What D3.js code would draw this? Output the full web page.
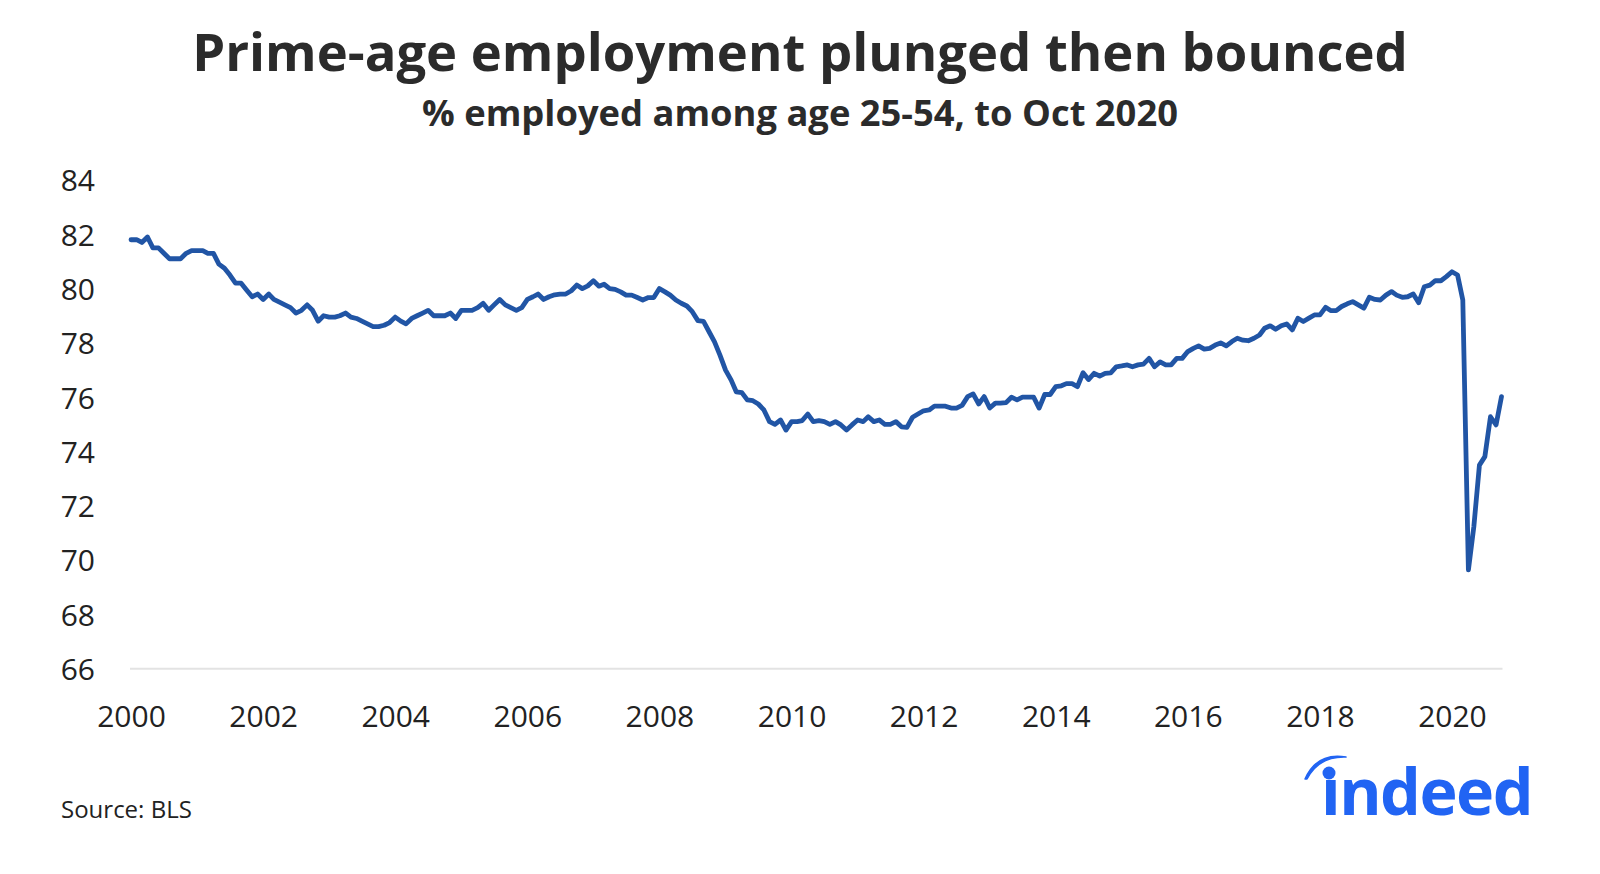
<!DOCTYPE html>
<html>
<head>
<meta charset="utf-8">
<script src="https://cdn.jsdelivr.net/npm/d3@7"></script>
<style>
  html, body { margin: 0; padding: 0; background: #fff; }
  svg { display: block; }
  text { font-family: "Open Sans", "Noto Sans", sans-serif; }
</style>
</head>
<body>
<svg id="chart" width="1600" height="874"></svg>
<script>
// ---- Data ----
const title = "Prime-age employment plunged then bounced";
const subtitle = "% employed among age 25-54, to Oct 2020";
const source = "Source: BLS";
const startMonth = "2000-01";
// Monthly employment-population ratio, age 25-54 (%), Jan 2000 - Oct 2020
const y2000 = [81.8, 81.8, 81.7, 81.9, 81.5, 81.5, 81.3, 81.1, 81.1, 81.1, 81.3, 81.4];
const y2001 = [81.4, 81.4, 81.3, 81.3, 80.9, 80.75, 80.5, 80.2, 80.2, 79.95, 79.7, 79.8];
const y2002 = [79.6, 79.8, 79.6, 79.5, 79.4, 79.3, 79.1, 79.2, 79.4, 79.2, 78.8, 79.0];
const y2003 = [78.95, 78.95, 79.0, 79.1, 78.95, 78.9, 78.8, 78.7, 78.6, 78.6, 78.65, 78.75];
const y2004 = [78.95, 78.8, 78.7, 78.9, 79.0, 79.1, 79.2, 79.0, 79.0, 79.0, 79.1, 78.9];
const y2005 = [79.2, 79.2, 79.2, 79.3, 79.46, 79.2, 79.4, 79.6, 79.4, 79.3, 79.2, 79.3];
const y2006 = [79.6, 79.7, 79.8, 79.6, 79.7, 79.77, 79.8, 79.8, 79.92, 80.13, 80.0, 80.1];
const y2007 = [80.29, 80.09, 80.16, 80.0, 79.97, 79.88, 79.76, 79.76, 79.67, 79.58, 79.67, 79.67];
const y2008 = [80.0, 79.88, 79.76, 79.58, 79.46, 79.36, 79.15, 78.82, 78.79, 78.42, 78.04, 77.55];
const y2009 = [77.0, 76.63, 76.2, 76.17, 75.9, 75.87, 75.75, 75.53, 75.1, 75.0, 75.16, 74.79];
const y2010 = [75.1, 75.1, 75.14, 75.38, 75.1, 75.14, 75.1, 75.0, 75.1, 74.98, 74.79, 74.98];
const y2011 = [75.16, 75.1, 75.28, 75.1, 75.16, 75.0, 75.0, 75.1, 74.91, 74.89, 75.26, 75.38];
const y2012 = [75.5, 75.53, 75.67, 75.67, 75.67, 75.6, 75.6, 75.7, 76.02, 76.12, 75.75, 76.02];
const y2013 = [75.6, 75.78, 75.78, 75.8, 76.0, 75.9, 76.0, 76.0, 76.0, 75.6, 76.1, 76.1];
const y2014 = [76.39, 76.42, 76.5, 76.5, 76.39, 76.9, 76.65, 76.88, 76.78, 76.88, 76.9, 77.12];
const y2015 = [77.15, 77.19, 77.12, 77.19, 77.22, 77.43, 77.12, 77.3, 77.19, 77.19, 77.43, 77.43];
const y2016 = [77.68, 77.8, 77.89, 77.77, 77.8, 77.92, 78.0, 77.89, 78.05, 78.17, 78.1, 78.08];
const y2017 = [78.17, 78.29, 78.54, 78.63, 78.5, 78.63, 78.7, 78.48, 78.91, 78.79, 78.91, 79.03];
const y2018 = [79.03, 79.31, 79.19, 79.19, 79.34, 79.44, 79.52, 79.4, 79.28, 79.68, 79.6, 79.58];
const y2019 = [79.76, 79.89, 79.76, 79.68, 79.7, 79.8, 79.48, 80.07, 80.13, 80.29, 80.29, 80.44];
const y2020 = [80.62, 80.5, 79.58, 69.64, 71.23, 73.5, 73.81, 75.28, 74.98, 76.02];
const yearlySeries = [y2000, y2001, y2002, y2003, y2004, y2005, y2006, y2007, y2008, y2009, y2010,
                      y2011, y2012, y2013, y2014, y2015, y2016, y2017, y2018, y2019, y2020];
const yTicks = [66, 68, 70, 72, 74, 76, 78, 80, 82, 84];
const xTickYears = [2000, 2002, 2004, 2006, 2008, 2010, 2012, 2014, 2016, 2018, 2020];

// ---- Build records ----
const parseMonth = d3.timeParse("%Y-%m");
const start = parseMonth(startMonth);
const values = yearlySeries.flat();
const data = values.map((v, i) => ({ date: d3.timeMonth.offset(start, i), value: v }));

// ---- Layout ----
const svg = d3.select("#chart");
const x = d3.scaleTime()
  .domain([data[0].date, data[data.length - 1].date])
  .range([131, 1501.5]);
const y = d3.scaleLinear().domain([66, 84]).range([668.7, 180]);

const textColor = "#222222";

function fitText(sel, targetWidth, baseSize) {
  sel.style("font-size", baseSize + "px");
  const w = sel.node().getComputedTextLength();
  const s = baseSize * targetWidth / w;
  sel.style("font-size", s + "px");
  return s;
}

// Title & subtitle
const t = svg.append("text")
  .attr("x", 800).attr("y", 71)
  .attr("text-anchor", "middle")
  .attr("fill", "#2b2b2b")
  .style("font-weight", 700)
  .text(title);
fitText(t, 1216, 50);

const st = svg.append("text")
  .attr("x", 800).attr("y", 126)
  .attr("text-anchor", "middle")
  .attr("fill", "#2b2b2b")
  .style("font-weight", 700)
  .text(subtitle);
fitText(st, 756, 32);

// Baseline gridline at 66
svg.append("line")
  .attr("x1", x(data[0].date) - 1).attr("x2", x(data[data.length - 1].date) + 1)
  .attr("y1", y(66)).attr("y2", y(66))
  .attr("stroke", "#e3e3e3").attr("stroke-width", 2);

// Y axis (labels only)
const yAxis = d3.axisLeft(y).tickValues(yTicks).tickSize(0).tickPadding(0).tickFormat(d3.format("d"));
const gy = svg.append("g").attr("transform", "translate(95,0)").call(yAxis);
gy.select(".domain").remove();
gy.selectAll("text")
  .attr("fill", textColor)
  .style("font-size", "30px")
  .style("font-family", '"Open Sans", "Noto Sans", sans-serif')
  .attr("dy", "0.36em");

// X axis (labels only)
const xAxis = d3.axisBottom(x)
  .tickValues(xTickYears.map(yr => new Date(yr, 0, 1)))
  .tickSize(0).tickPadding(0)
  .tickFormat(d3.timeFormat("%Y"));
const gx = svg.append("g").attr("transform", "translate(0,716)").call(xAxis);
gx.select(".domain").remove();
gx.selectAll("text")
  .attr("fill", textColor)
  .style("font-size", "30px")
  .style("font-family", '"Open Sans", "Noto Sans", sans-serif')
  .attr("dy", "0.36em");

// Line
const line = d3.line().x(d => x(d.date)).y(d => y(d.value));
svg.append("path")
  .datum(data)
  .attr("d", line)
  .attr("fill", "none")
  .attr("stroke", "#2155a5")
  .attr("stroke-width", 4.8)
  .attr("stroke-linejoin", "round")
  .attr("stroke-linecap", "round");

// Source
svg.append("text")
  .attr("x", 61).attr("y", 818)
  .attr("fill", textColor)
  .style("font-size", "24px")
  .text(source);

// Indeed logo
const logoBlue = "#2164f3";
const lg = svg.append("g");
const lt = lg.append("text")
  .attr("x", 1321).attr("y", 815)
  .attr("fill", logoBlue)
  .style("font-weight", 700)
  .style("font-family", '"Open Sans", "Noto Sans", sans-serif')
  .style("letter-spacing", "-1.5px")
  .text("\u0131ndeed");
fitText(lt, 211, 64);
lg.append("circle").attr("cx", 1329).attr("cy", 773).attr("r", 6.5).attr("fill", logoBlue);
lg.append("path")
  .attr("d", "M1305,779 Q1317,752 1346,757 Q1319,756 1307,779 Z")
  .attr("fill", logoBlue)
  .attr("stroke", logoBlue)
  .attr("stroke-width", 1.5)
  .attr("stroke-linejoin", "round");
</script>
</body>
</html>
